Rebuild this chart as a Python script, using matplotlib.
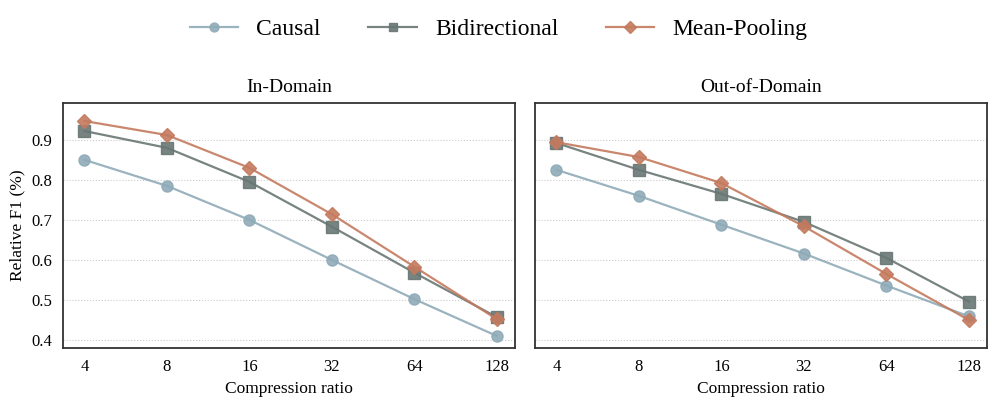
import numpy as np
import matplotlib
matplotlib.use('Agg')
import matplotlib.pyplot as plt

plt.rcParams['font.family'] = ['Liberation Serif', 'DejaVu Serif']

# Data
ratios = ['4', '8', '16', '32', '64', '128']
panels = ['In-Domain', 'Out-of-Domain']

causal_in = [0.850, 0.785, 0.700, 0.600, 0.502, 0.410]
bidir_in = [0.922, 0.880, 0.795, 0.683, 0.568, 0.457]
mean_in = [0.947, 0.912, 0.830, 0.714, 0.583, 0.452]

causal_out = [0.825, 0.760, 0.688, 0.616, 0.536, 0.459]
bidir_out = [0.892, 0.825, 0.765, 0.695, 0.605, 0.496]
mean_out = [0.894, 0.857, 0.792, 0.684, 0.565, 0.450]

series_names = ['Causal', 'Bidirectional', 'Mean-Pooling']
colors = ['#8fabb8', '#687774', '#c47a5e']
markers = ['o', 's', 'D']

fig = plt.figure(figsize=(9.97, 4.08), dpi=100)
ax1 = fig.add_axes([63 / 997, 1 - 348 / 408, 452 / 997, 245 / 408])
ax2 = fig.add_axes([535 / 997, 1 - 348 / 408, 452 / 997, 245 / 408])

x = np.arange(len(ratios))
data = [[causal_in, bidir_in, mean_in], [causal_out, bidir_out, mean_out]]

for ax, title, vals in zip([ax1, ax2], panels, data):
    for name, v, c, m in zip(series_names, vals, colors, markers):
        ax.plot(x, v, color=c, marker=m, markersize=8 if m != 'D' else 7.5,
                linewidth=1.6, markeredgecolor=c, markerfacecolor=c,
                markeredgewidth=1.0, alpha=0.9, label=name)
    ax.set_title(title, fontsize=14, pad=8)
    ax.set_xticks(x)
    ax.set_xticklabels(ratios, fontsize=12)
    ax.set_xlabel('Compression ratio', fontsize=12.5, labelpad=4)
    ax.set_xlim(-0.26, 5.22)
    ax.set_ylim(0.38, 0.992)
    ax.set_yticks([0.4, 0.5, 0.6, 0.7, 0.8, 0.9])
    ax.grid(axis='y', linestyle=':', color='#cccccc', linewidth=0.8)
    ax.set_axisbelow(True)
    ax.tick_params(length=0, pad=8)
    for s in ax.spines.values():
        s.set_color('#333333')
        s.set_linewidth(1.3)

ax1.set_ylabel('Relative F1 (%)', fontsize=12.5)
ax1.tick_params(axis='y', labelsize=12)
ax2.set_yticklabels([])

handles, labels = ax1.get_legend_handles_labels()
fig.legend(handles, labels, loc='upper center', bbox_to_anchor=(0.5, 1.006),
           ncol=3, frameon=False, fontsize=17, handlelength=2.07,
           columnspacing=2.0, handletextpad=0.76, markerscale=0.8)

fig.savefig('out.png', dpi=100)
